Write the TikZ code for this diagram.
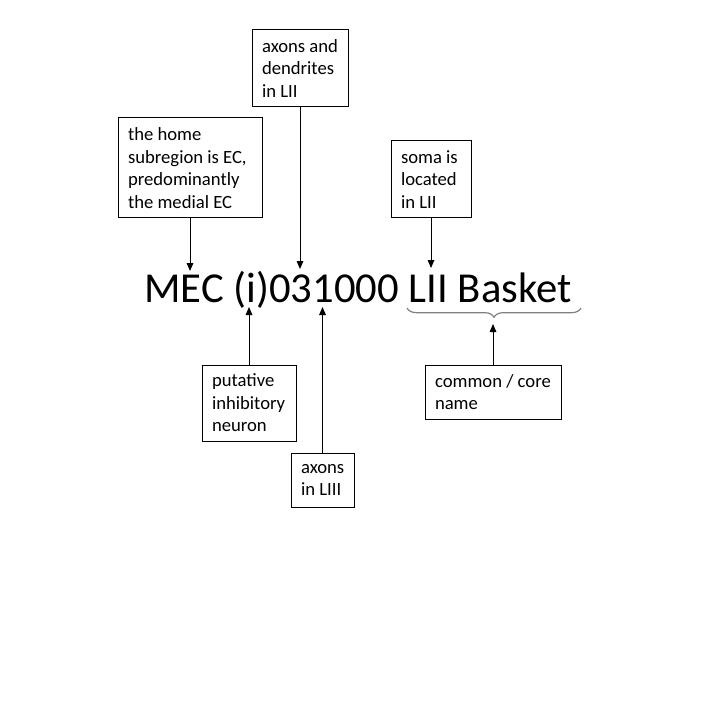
\documentclass[tikz,border=0pt]{standalone}
\usepackage{fontspec}
\setmainfont{Carlito}
\usetikzlibrary{arrows.meta,decorations.pathreplacing}
\begin{document}
\begin{tikzpicture}[x=0.75pt,y=-0.75pt,
  box/.style={draw, line width=0.75pt, inner xsep=7.5pt, inner ysep=0pt, align=flush left,
    font=\fontsize{14}{16.8}\selectfont},
  arr/.style={line width=0.75pt, -{Triangle[length=6pt,width=5pt]}},
  bracestyle/.style={draw=gray, line width=0.9pt, decorate,
    decoration={brace, mirror, amplitude=7pt}}]
\useasboundingbox (0,0) rectangle (720,720);
\fill[white] (0,0) rectangle (720,720);

\node[font=\fontsize{32}{36}\selectfont, anchor=base, inner sep=0pt] (main) at (358,302) {MEC (i)031000 LII Basket};

\node[box, text width=93pt, minimum height=75pt] (A) at (190,168) {the home\\subregion is EC,\\predominantly\\the medial EC};
\node[box, text width=57pt, minimum height=57.75pt] (B) at (300,68.5) {axons and\\dendrites\\in LII};
\node[box, text width=45pt, minimum height=57.75pt] (C) at (431,179.5) {soma is\\located\\in LII};
\node[box, text width=55.5pt, minimum height=57pt] (D) at (249,403) {putative\\inhibitory\\neuron};
\node[box, text width=32.25pt, minimum height=40.5pt] (E) at (322.5,480) {axons\\in LIII};
\node[box, text width=87pt, minimum height=40.5pt] (F) at (493,392) {common / core\\name};

\coordinate (a1) at (190,271);
\coordinate (b1) at (300,269);
\coordinate (c1) at (431,268);
\coordinate (d1) at (249,307);
\coordinate (e1) at (322.5,307);
\coordinate (f1) at (493,324);
\coordinate (brL) at (407,308);
\coordinate (brR) at (581,308);

\draw[arr] (A) -- (a1);
\draw[arr] (B) -- (b1);
\draw[arr] (C) -- (c1);
\draw[arr] (D) -- (d1);
\draw[arr] (E) -- (e1);
\draw[arr] (F) -- (f1);
\draw[bracestyle] (brL) -- (brR);
\end{tikzpicture}
\end{document}
